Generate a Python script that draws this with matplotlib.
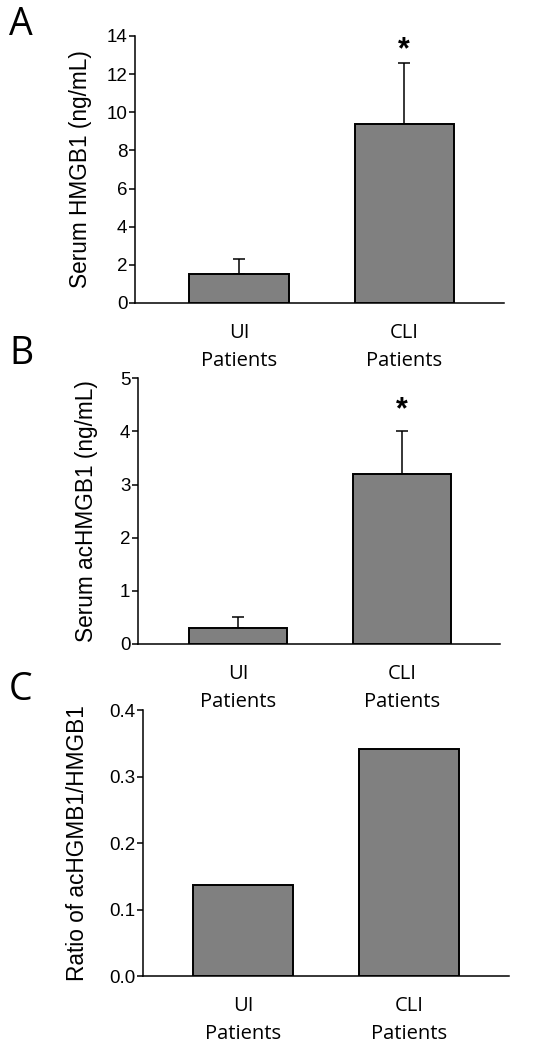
import matplotlib
matplotlib.use("Agg")
import matplotlib.pyplot as plt

categories = ["UI\nPatients", "CLI\nPatients"]
hmgb1_mean = [1.5, 9.4]
hmgb1_err = [0.8, 3.2]
achmgb1_mean = [0.3, 3.2]
achmgb1_err = [0.2, 0.8]
ratio_mean = [0.137, 0.341]

a_ticks = [0, 2, 4, 6, 8, 10, 12, 14]
b_ticks = [0, 1, 2, 3, 4, 5]
c_ticks = [0.0, 0.1, 0.2, 0.3, 0.4]
c_ticklabels = ["0.0", "0.1", "0.2", "0.3", "0.4"]

num_font = "Liberation Sans"
cat_font = "Open Sans"
bar_color = "#808080"

W, H = 548, 1048
fig = plt.figure(figsize=(W / 100, H / 100), dpi=100)

axA = fig.add_axes([0.2464, 0.7109, 0.6734, 0.2548])
axB = fig.add_axes([0.2518, 0.3855, 0.6606, 0.2535])
axC = fig.add_axes([0.2610, 0.0687, 0.6679, 0.2538])

x = [0, 1]

def style(ax, ticks, ticklabels, ylim, xlim, ylabel, labelx):
    for s in ["top", "right"]:
        ax.spines[s].set_visible(False)
    ax.spines["left"].set_linewidth(1.1)
    ax.spines["bottom"].set_linewidth(1.1)
    ax.set_ylim(*ylim)
    ax.set_xlim(*xlim)
    ax.set_yticks(ticks)
    ax.set_yticklabels(ticklabels, fontfamily=num_font, fontsize=13.5)
    ax.tick_params(axis="y", direction="out", length=4, width=1.1, pad=1.5)
    ax.set_xticks(x)
    ax.set_xticklabels(categories, fontfamily=cat_font, fontsize=14.5, linespacing=1.55)
    ax.tick_params(axis="x", length=0, pad=14.5)
    pos = ax.get_position()
    fig.text(labelx / W, pos.y0 + pos.height / 2, ylabel, rotation=90,
             ha="center", va="center", fontfamily=num_font, fontsize=16.3)

# Panel A
axA.bar(x, hmgb1_mean, width=0.6, color=bar_color, edgecolor="black", linewidth=1.4, zorder=3)
axA.errorbar(x, hmgb1_mean, yerr=[[0, 0], hmgb1_err], fmt="none", ecolor="black",
             elinewidth=1.1, capsize=4, capthick=1.1, zorder=2)
style(axA, a_ticks, [str(t) for t in a_ticks], (0, 14), (-0.63, 1.606),
      "Serum HMGB1 (ng/mL)", 81)
axA.text(1, hmgb1_mean[1] + hmgb1_err[1] + 0.64, "*", ha="center", va="center",
         fontsize=22, fontweight="bold", fontfamily=num_font)

# Panel B
axB.bar(x, achmgb1_mean, width=0.6, color=bar_color, edgecolor="black", linewidth=1.4, zorder=3)
axB.errorbar(x, achmgb1_mean, yerr=[[0, 0], achmgb1_err], fmt="none", ecolor="black",
             elinewidth=1.1, capsize=4, capthick=1.1, zorder=2)
style(axB, b_ticks, [str(t) for t in b_ticks], (0, 5), (-0.61, 1.598),
      "Serum acHMGB1 (ng/mL)", 87)
axB.text(1, achmgb1_mean[1] + achmgb1_err[1] + 0.39, "*", ha="center", va="center",
         fontsize=22, fontweight="bold", fontfamily=num_font)

# Panel C
axC.bar(x, ratio_mean, width=0.6, color=bar_color, edgecolor="black", linewidth=1.4, zorder=3)
style(axC, c_ticks, c_ticklabels, (0, 0.4), (-0.602, 1.602),
      "Ratio of acHGMB1/HMGB1", 78)

# Panel letters
for lbl, (px, py) in zip(["A", "B", "C"], [(9, 25), (9, 354), (9, 690)]):
    fig.text(px / W, 1 - py / H, lbl, fontfamily=cat_font, fontsize=27,
             ha="left", va="center")

fig.savefig("out.png", dpi=100)
